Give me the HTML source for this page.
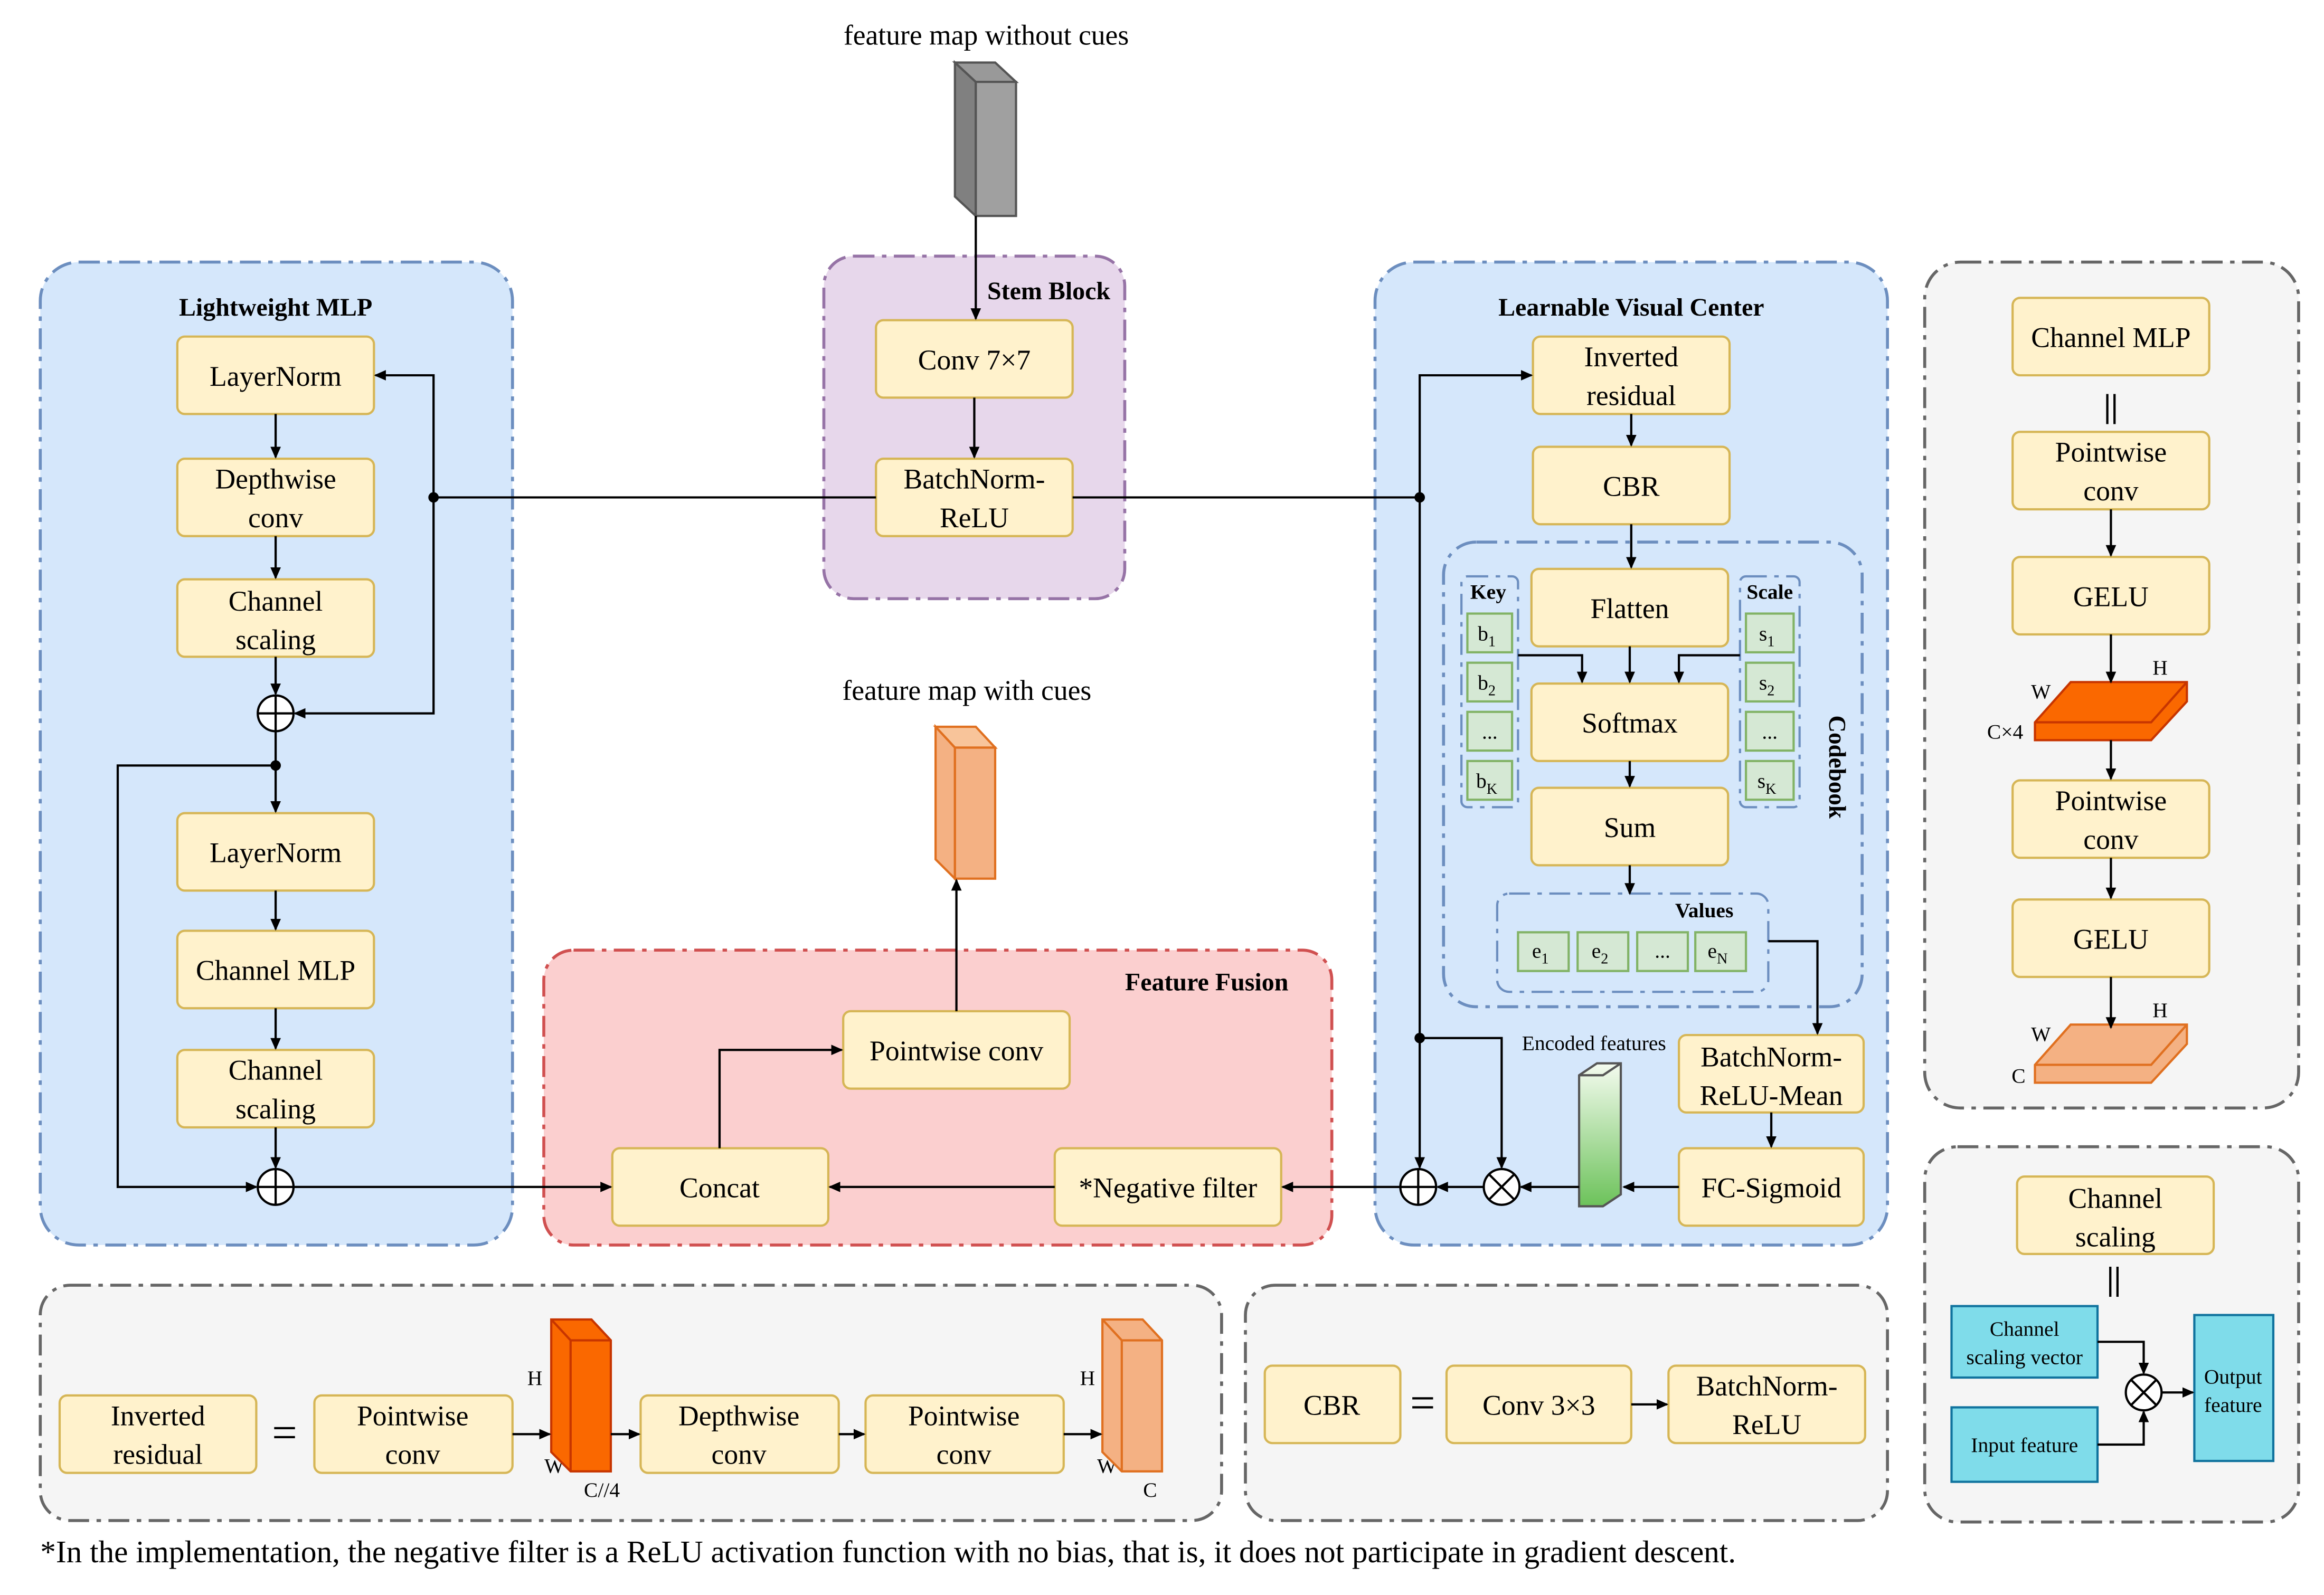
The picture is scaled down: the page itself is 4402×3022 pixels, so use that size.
<!DOCTYPE html>
<html><head><meta charset="utf-8"><style>html,body{margin:0;padding:0;background:#fff}svg{display:block}</style></head>
<body>
<svg xmlns="http://www.w3.org/2000/svg" width="4402" height="3022" viewBox="0 0 1560 1071" font-family="Liberation Serif, serif">
<defs>
<marker id="a" markerWidth="8" markerHeight="8" refX="7" refY="4" orient="auto" markerUnits="userSpaceOnUse"><path d="M0,0.5 L8,4 L0,7.5 Z" fill="#000"/></marker>
<linearGradient id="g" x1="0" y1="0" x2="0" y2="1"><stop offset="0" stop-color="#f4fbef"/><stop offset="1" stop-color="#6cc25a"/></linearGradient>
</defs>
<rect width="1560" height="1071" fill="#fff"/>
<g stroke-width="2" stroke-dasharray="14,5,3,5">
<rect x="27" y="176" width="317" height="660" rx="26" fill="#d5e7fb" stroke="#6c8ebf"/>
<rect x="553" y="172" width="202" height="230" rx="20" fill="#e7d7eb" stroke="#9673a6"/>
<rect x="923" y="176" width="344" height="660" rx="26" fill="#d5e7fb" stroke="#6c8ebf"/>
<rect x="365" y="638" width="529" height="198" rx="20" fill="#fbcfcf" stroke="#d05050"/>
<rect x="1292" y="176" width="251" height="568" rx="24" fill="#f5f5f5" stroke="#666"/>
<rect x="1292" y="770" width="251" height="252" rx="22" fill="#f5f5f5" stroke="#666"/>
<rect x="27" y="863" width="793" height="158" rx="20" fill="#f5f5f5" stroke="#666"/>
<rect x="836" y="863" width="431" height="158" rx="20" fill="#f5f5f5" stroke="#666"/>
<rect x="969" y="364" width="281" height="312" rx="22" fill="none" stroke="#6c8ebf"/>
<rect x="981" y="387" width="38" height="155" rx="4" fill="none" stroke="#6c8ebf" stroke-width="1.5"/>
<rect x="1168" y="387" width="40" height="155" rx="4" fill="none" stroke="#6c8ebf" stroke-width="1.5"/>
<rect x="1005" y="600" width="182" height="66" rx="8" fill="none" stroke="#6c8ebf" stroke-width="1.5"/>
</g>
<g font-weight="bold" font-size="17" text-anchor="middle">
<text x="185" y="212">Lightweight MLP</text>
<text x="704" y="201">Stem Block</text>
<text x="1095" y="212">Learnable Visual Center</text>
<text x="810" y="665">Feature Fusion</text>
<text x="999" y="402" font-size="14">Key</text>
<text x="1188" y="402" font-size="14">Scale</text>
<text x="1144" y="616" font-size="14">Values</text>
<text x="1228" y="515" font-size="16" transform="rotate(90 1228 515)">Codebook</text>
</g>
<g fill="#fff2cc" stroke="#d6b656" stroke-width="1.5">
<rect x="119" y="226" width="132" height="52" rx="5"/>
<rect x="119" y="308" width="132" height="52" rx="5"/>
<rect x="119" y="389" width="132" height="52" rx="5"/>
<rect x="119" y="546" width="132" height="52" rx="5"/>
<rect x="119" y="625" width="132" height="52" rx="5"/>
<rect x="119" y="705" width="132" height="52" rx="5"/>
<rect x="588" y="215" width="132" height="52" rx="5"/>
<rect x="588" y="308" width="132" height="52" rx="5"/>
<rect x="1029" y="226" width="132" height="52" rx="5"/>
<rect x="1029" y="300" width="132" height="52" rx="5"/>
<rect x="1028" y="382" width="132" height="52" rx="5"/>
<rect x="1028" y="459" width="132" height="52" rx="5"/>
<rect x="1028" y="529" width="132" height="52" rx="5"/>
<rect x="1127" y="695" width="124" height="52" rx="5"/>
<rect x="1127" y="771" width="124" height="52" rx="5"/>
<rect x="566" y="679" width="152" height="52" rx="5"/>
<rect x="411" y="771" width="145" height="52" rx="5"/>
<rect x="708" y="771" width="152" height="52" rx="5"/>
<rect x="1351" y="200" width="132" height="52" rx="5"/>
<rect x="1351" y="290" width="132" height="52" rx="5"/>
<rect x="1351" y="374" width="132" height="52" rx="5"/>
<rect x="1351" y="524" width="132" height="52" rx="5"/>
<rect x="1351" y="604" width="132" height="52" rx="5"/>
<rect x="1354" y="790" width="132" height="52" rx="5"/>
<rect x="40" y="937" width="132" height="52" rx="5"/>
<rect x="211" y="937" width="133" height="52" rx="5"/>
<rect x="430" y="937" width="133" height="52" rx="5"/>
<rect x="581" y="937" width="133" height="52" rx="5"/>
<rect x="849" y="917" width="91" height="52" rx="5"/>
<rect x="971" y="917" width="124" height="52" rx="5"/>
<rect x="1120" y="917" width="132" height="52" rx="5"/>
</g>
<g fill="#d5e8d4" stroke="#82b366" stroke-width="1.5">
<rect x="985" y="412" width="30" height="26"/><rect x="985" y="445" width="30" height="26"/><rect x="985" y="478" width="30" height="26"/><rect x="985" y="511" width="30" height="26"/>
<rect x="1172" y="412" width="32" height="26"/><rect x="1172" y="445" width="32" height="26"/><rect x="1172" y="478" width="32" height="26"/><rect x="1172" y="511" width="32" height="26"/>
<rect x="1019" y="626" width="34" height="26"/><rect x="1059" y="626" width="34" height="26"/><rect x="1099" y="626" width="34" height="26"/><rect x="1138" y="626" width="34" height="26"/>
</g>
<g fill="#7fdcea" stroke="#10739e" stroke-width="1.5">
<rect x="1310" y="877" width="98" height="48"/><rect x="1310" y="945" width="98" height="50"/><rect x="1473" y="883" width="53" height="98"/>
</g>
<g font-size="19" text-anchor="middle" fill="#000">
<text x="185" y="259">LayerNorm</text>
<text x="185" y="328">Depthwise</text><text x="185" y="354">conv</text>
<text x="185" y="410">Channel</text><text x="185" y="436">scaling</text>
<text x="185" y="579">LayerNorm</text>
<text x="185" y="658">Channel MLP</text>
<text x="185" y="725">Channel</text><text x="185" y="751">scaling</text>
<text x="654" y="248">Conv 7×7</text>
<text x="654" y="328">BatchNorm-</text><text x="654" y="354">ReLU</text>
<text x="1095" y="246">Inverted</text><text x="1095" y="272">residual</text>
<text x="1095" y="333">CBR</text>
<text x="1094" y="415">Flatten</text>
<text x="1094" y="492">Softmax</text>
<text x="1094" y="562">Sum</text>
<text x="1189" y="716">BatchNorm-</text><text x="1189" y="742">ReLU-Mean</text>
<text x="1189" y="804">FC-Sigmoid</text>
<text x="642" y="712">Pointwise conv</text>
<text x="483" y="804">Concat</text>
<text x="784" y="804">*Negative filter</text>
<text x="1417" y="233">Channel MLP</text>
<text x="1417" y="310">Pointwise</text><text x="1417" y="336">conv</text>
<text x="1417" y="407">GELU</text>
<text x="1417" y="544">Pointwise</text><text x="1417" y="570">conv</text>
<text x="1417" y="637">GELU</text>
<text x="1420" y="811">Channel</text><text x="1420" y="837">scaling</text>
<text x="106" y="957">Inverted</text><text x="106" y="983">residual</text>
<text x="277" y="957">Pointwise</text><text x="277" y="983">conv</text>
<text x="496" y="957">Depthwise</text><text x="496" y="983">conv</text>
<text x="647" y="957">Pointwise</text><text x="647" y="983">conv</text>
<text x="894" y="950">CBR</text>
<text x="1033" y="950">Conv 3×3</text>
<text x="1186" y="937">BatchNorm-</text><text x="1186" y="963">ReLU</text>
<text x="662" y="30">feature map without cues</text>
<text x="649" y="470">feature map with cues</text>
<text x="191" y="972" font-size="30">=</text>
<text x="955" y="952" font-size="30">=</text>
<text x="1417" y="280" font-size="22" font-weight="bold">||</text>
<text x="1419" y="866" font-size="22" font-weight="bold">||</text>
</g>
<g font-size="14" text-anchor="middle">
<text x="1359" y="897">Channel</text><text x="1359" y="916">scaling vector</text>
<text x="1359" y="975">Input feature</text>
<text x="1499" y="929">Output</text><text x="1499" y="948">feature</text>
<text x="1070" y="705">Encoded features</text>
<text x="998" y="430">b<tspan font-size="10" dy="4">1</tspan></text>
<text x="998" y="463">b<tspan font-size="10" dy="4">2</tspan></text>
<text x="1000" y="496">...</text>
<text x="998" y="529">b<tspan font-size="10" dy="4">K</tspan></text>
<text x="1186" y="430">s<tspan font-size="10" dy="4">1</tspan></text>
<text x="1186" y="463">s<tspan font-size="10" dy="4">2</tspan></text>
<text x="1188" y="496">...</text>
<text x="1186" y="529">s<tspan font-size="10" dy="4">K</tspan></text>
<text x="1034" y="643">e<tspan font-size="10" dy="4">1</tspan></text>
<text x="1074" y="643">e<tspan font-size="10" dy="4">2</tspan></text>
<text x="1116" y="643">...</text>
<text x="1153" y="643">e<tspan font-size="10" dy="4">N</tspan></text>
<text x="1370" y="469">W</text><text x="1450" y="453">H</text><text x="1346" y="496">C×4</text>
<text x="1370" y="699">W</text><text x="1450" y="683">H</text><text x="1355" y="727">C</text>
<text x="359" y="930">H</text><text x="372" y="989">W</text><text x="404" y="1005">C//4</text>
<text x="730" y="930">H</text><text x="743" y="989">W</text><text x="772" y="1005">C</text>
</g>
<g stroke-width="1.5">
<polygon points="641,42 655,55 655,145 641,132" fill="#808080" stroke="#555"/>
<polygon points="641,42 668,42 682,55 655,55" fill="#999" stroke="#555"/>
<polygon points="655,55 682,55 682,145 655,145" fill="#a0a0a0" stroke="#555"/>
<polygon points="628,488 641,502 641,590 628,577" fill="#f4b183" stroke="#e07020"/>
<polygon points="628,488 655,488 668,502 641,502" fill="#f8c49a" stroke="#e07020"/>
<polygon points="641,502 668,502 668,590 641,590" fill="#f4b183" stroke="#e07020"/>
<polygon points="370,886 397,886 410,900 410,988 383,988 370,975" fill="#fa6800" stroke="#c73500"/>
<line x1="383" y1="988" x2="383" y2="900" stroke="#c73500"/><polyline points="370,886 383,900 410,900" fill="none" stroke="#c73500"/>
<polygon points="740,886 767,886 780,900 780,988 753,988 740,975" fill="#f4b183" stroke="#e07020"/>
<line x1="753" y1="988" x2="753" y2="900" stroke="#e07020"/><polyline points="740,886 753,900 780,900" fill="none" stroke="#e07020"/>
<polygon points="1366,485 1390,458 1468,458 1468,471 1444,497 1366,497" fill="#fa6800" stroke="#c73500"/>
<polyline points="1366,485 1444,485 1468,458 M1444,485 1444,497" fill="none" stroke="#c73500"/>
<polygon points="1366,715 1390,688 1468,688 1468,701 1444,727 1366,727" fill="#f4b183" stroke="#e07020"/>
<polyline points="1366,715 1444,715 1468,688 M1444,715 1444,727" fill="none" stroke="#e07020"/>
<polygon points="1060,722 1072,714 1088,714 1088,802 1076,810 1060,810" fill="url(#g)" stroke="#555"/>
<polyline points="1060,722 1076,722 1088,714 M1076,722 1076,810" fill="none" stroke="#555"/>
</g>
<g fill="#fff" stroke="#000" stroke-width="1.5">
<circle cx="185" cy="479" r="12"/><circle cx="185" cy="797" r="12"/>
<circle cx="952" cy="797" r="12"/><circle cx="1008" cy="797" r="12"/><circle cx="1439" cy="935" r="12"/>
</g>
<g stroke="#000" stroke-width="1.5">
<path d="M173,479h24M185,467v24M173,797h24M185,785v24M940,797h24M952,785v24"/>
<path d="M1000,789l16,16M1016,789l-16,16M1431,927l16,16M1447,927l-16,16"/>
</g>
<g stroke="#000" stroke-width="1.5" fill="none" marker-end="url(#a)">
<path d="M185,278V307"/><path d="M185,360V388"/><path d="M185,441V466"/>
<path d="M185,491V545"/><path d="M185,598V624"/><path d="M185,677V704"/><path d="M185,757V784"/>
<path d="M291,334V252H252"/><path d="M291,334V479H198"/>
<path d="M185,514H79V797H172"/>
<path d="M197,797H410"/>
<path d="M655,145V214"/><path d="M654,267V307"/>
<path d="M953,334V252H1028"/><path d="M953,334V784"/>
<path d="M953,697H1008V784"/>
<path d="M1095,278V299"/><path d="M1095,352V381"/><path d="M1094,434V458"/><path d="M1094,511V528"/><path d="M1094,581V600"/>
<path d="M1019,440H1062V458"/><path d="M1168,440H1127V458"/>
<path d="M1187,632H1220V694"/><path d="M1189,747V770"/>
<path d="M1127,797H1090"/><path d="M1060,797H1021"/><path d="M996,797H965"/>
<path d="M940,797H861"/><path d="M708,797H557"/><path d="M483,771V705H565"/><path d="M642,679V591"/>
<path d="M1417,342V373"/><path d="M1417,426V458"/><path d="M1417,497V523"/><path d="M1417,576V603"/><path d="M1417,656V690"/>
<path d="M344,963H369"/><path d="M410,963H429"/><path d="M563,963H580"/><path d="M714,963H739"/>
<path d="M1095,943H1119"/>
<path d="M1408,901H1439V922"/><path d="M1408,970H1439V948"/><path d="M1451,935H1472"/>
</g>
<path d="M291,334H588M720,334H953" stroke="#000" stroke-width="1.5"/>
<g fill="#000"><circle cx="291" cy="334" r="3.5"/><circle cx="185" cy="514" r="3.5"/><circle cx="953" cy="334" r="3.5"/><circle cx="953" cy="697" r="3.5"/></g>
<text x="27" y="1049" font-size="21">*In the implementation, the negative filter is a ReLU activation function with no bias, that is, it does not participate in gradient descent.</text>
</svg>
</body></html>
